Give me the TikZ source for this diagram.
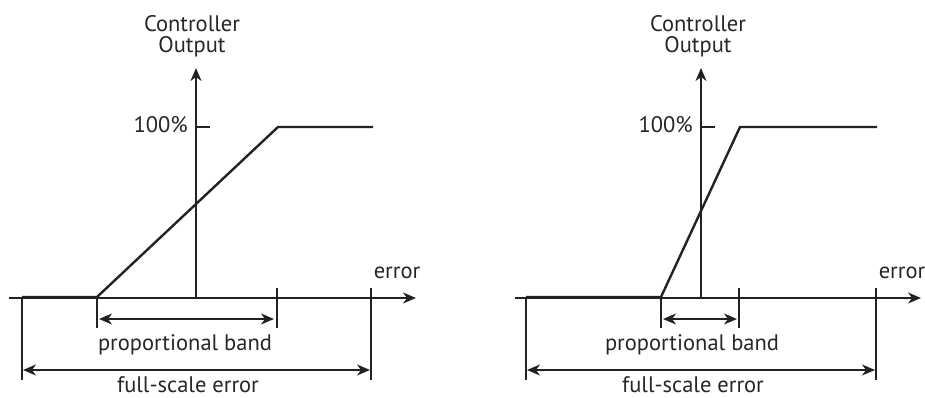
\documentclass[tikz,border=0pt]{standalone}
\usepackage{fontspec}
\setmainfont{PT Sans}
\usetikzlibrary{arrows.meta}
\definecolor{ink}{HTML}{222222}
\definecolor{labelink}{HTML}{262626}
\begin{document}
\begin{tikzpicture}[x=1pt,y=-1pt,
  tip/.style={-{Stealth[length=13pt,width=11pt,inset=4pt]}},
  twotip/.style={{Stealth[length=13pt,width=11pt,inset=4pt]}-{Stealth[length=13pt,width=11pt,inset=4pt]}},
  axisline/.style={draw=ink, line width=1.5pt},
  guide/.style={draw=ink, line width=1.3pt},
  response/.style={draw=ink, line width=2.4pt, line join=miter},
  lbl/.style={text=labelink, font=\fontsize{22.5}{21}\selectfont, inner sep=0pt, anchor=base},
  stacked/.style={lbl, align=center}]
\useasboundingbox (0,0) rectangle (925,398);

% ---------- left panel: wide proportional band ----------
\coordinate (LxS) at (9,298);
\coordinate (LxE) at (416,298);
\coordinate (LyS) at (196,298);
\coordinate (LyE) at (196,68);
\coordinate (Ltk) at (210,127);
\coordinate (Ly100) at (196,127);
\coordinate (La) at (22,297);
\coordinate (Lb) at (97,297);
\coordinate (Lc) at (278,127);
\coordinate (Ld) at (373,127);
\draw[axisline,tip] (LxS) -- (LxE);
\draw[axisline,tip] (LyS) -- (LyE);
\draw[axisline] (Ly100) -- (Ltk);
\draw[response] (La) -- (Lb) -- (Lc) -- (Ld);
% extension lines
\coordinate (Lv1t) at (22,297);  \coordinate (Lv1b) at (22,380);
\coordinate (Lv2t) at (97,297);  \coordinate (Lv2b) at (97,328);
\coordinate (Lv3t) at (277,288); \coordinate (Lv3b) at (277,328);
\coordinate (Lv4t) at (371,288); \coordinate (Lv4b) at (371,380);
\draw[guide] (Lv1t) -- (Lv1b);
\draw[guide] (Lv2t) -- (Lv2b);
\draw[guide] (Lv3t) -- (Lv3b);
\draw[guide] (Lv4t) -- (Lv4b);
% dimension arrows
\coordinate (Lpb1) at (99,319);  \coordinate (Lpb2) at (274,319);
\coordinate (Lfs1) at (23,370);  \coordinate (Lfs2) at (370,370);
\draw[guide,twotip] (Lpb1) -- (Lpb2);
\draw[guide,twotip] (Lfs1) -- (Lfs2);
% labels
\node[stacked] (Ltitle) at (192,53) {Controller\\Output};
\node[lbl,anchor=base east] (L100) at (188,133) {100\%};
\node[lbl] (Lerr) at (397,278) {error};
\node[lbl] (Lpb) at (185,350) {proportional band};
\node[lbl] (Lfs) at (188,392) {full-scale error};

% ---------- right panel: narrow proportional band ----------
\coordinate (RxS) at (515,298);
\coordinate (RxE) at (921,298);
\coordinate (RyS) at (701,298);
\coordinate (RyE) at (701,68);
\coordinate (Rtk) at (715,127);
\coordinate (Ry100) at (701,127);
\coordinate (Ra) at (526,297);
\coordinate (Rb) at (661,297);
\coordinate (Rc) at (740,127);
\coordinate (Rd) at (877,127);
\draw[axisline,tip] (RxS) -- (RxE);
\draw[axisline,tip] (RyS) -- (RyE);
\draw[axisline] (Ry100) -- (Rtk);
\draw[response] (Ra) -- (Rb) -- (Rc) -- (Rd);
% extension lines
\coordinate (Rv1t) at (526,297); \coordinate (Rv1b) at (526,380);
\coordinate (Rv2t) at (661,297); \coordinate (Rv2b) at (661,328);
\coordinate (Rv3t) at (739,288); \coordinate (Rv3b) at (739,328);
\coordinate (Rv4t) at (876,288); \coordinate (Rv4b) at (876,380);
\draw[guide] (Rv1t) -- (Rv1b);
\draw[guide] (Rv2t) -- (Rv2b);
\draw[guide] (Rv3t) -- (Rv3b);
\draw[guide] (Rv4t) -- (Rv4b);
% dimension arrows
\coordinate (Rpb1) at (663,319); \coordinate (Rpb2) at (737,319);
\coordinate (Rfs1) at (527,370); \coordinate (Rfs2) at (875,370);
\draw[guide,twotip] (Rpb1) -- (Rpb2);
\draw[guide,twotip] (Rfs1) -- (Rfs2);
% labels
\node[stacked] (Rtitle) at (698,53) {Controller\\Output};
\node[lbl,anchor=base east] (R100) at (693,133) {100\%};
\node[lbl] (Rerr) at (902,278) {error};
\node[lbl] (Rpb) at (692,350) {proportional band};
\node[lbl] (Rfs) at (693,392) {full-scale error};
\end{tikzpicture}
\end{document}
